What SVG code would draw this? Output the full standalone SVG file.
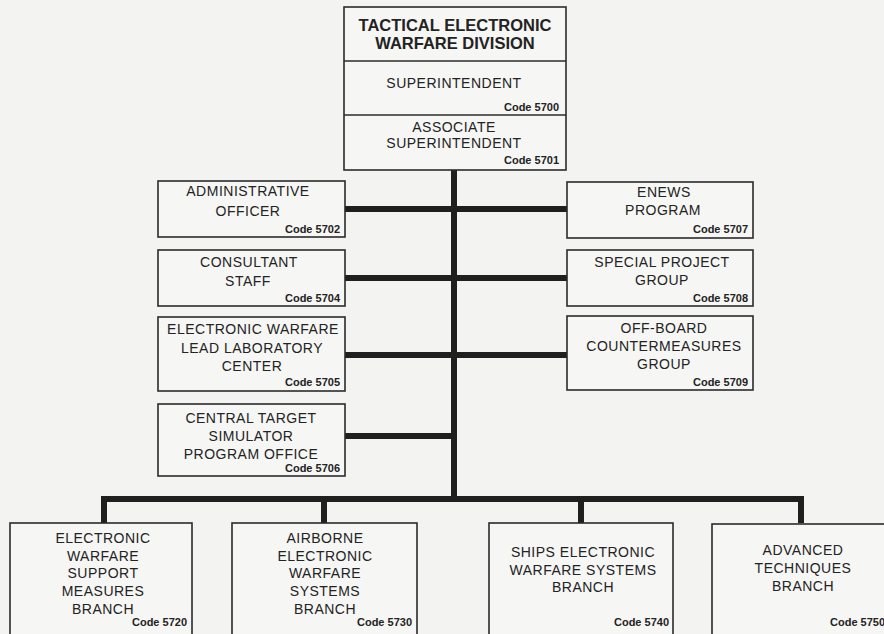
<svg xmlns="http://www.w3.org/2000/svg" width="884" height="634" viewBox="0 0 884 634">
<style>
.bg{fill:#f3f3f1}
.box{fill:#f6f6f4;stroke:#2b2b2b;stroke-width:1.6}
.t{font-family:"Liberation Sans",Arial,sans-serif;font-size:14px;letter-spacing:0.5px;fill:#232323;text-anchor:middle}
.title{font-family:"Liberation Sans",Arial,sans-serif;font-size:16.5px;font-weight:bold;fill:#232323;text-anchor:middle}
.code{font-family:"Liberation Sans",Arial,sans-serif;font-size:11px;font-weight:bold;fill:#232323;text-anchor:end}
.conn{stroke:#1f1f1f;stroke-width:6;fill:none}
</style>
<rect class="bg" x="0" y="0" width="884" height="634"/>

<g id="connectors">
<line class="conn" x1="454" y1="170" x2="454" y2="502"/>
<line class="conn" x1="345" y1="209" x2="567" y2="209"/>
<line class="conn" x1="345" y1="278" x2="567" y2="278"/>
<line class="conn" x1="345" y1="355" x2="567" y2="355"/>
<line class="conn" x1="345" y1="436" x2="454" y2="436"/>
<polyline class="conn" points="104,523 104,499 801,499 801,523"/>
<line class="conn" x1="324" y1="499" x2="324" y2="523"/>
<line class="conn" x1="581" y1="499" x2="581" y2="523"/>
</g>

<g id="division">
<rect class="box" x="344" y="7" width="222" height="163"/>
<line stroke="#2b2b2b" stroke-width="1.6" x1="344" y1="61" x2="566" y2="61"/>
<line stroke="#2b2b2b" stroke-width="1.6" x1="344" y1="115" x2="566" y2="115"/>
<text class="title" x="455" y="31">TACTICAL ELECTRONIC</text>
<text class="title" x="455" y="49">WARFARE DIVISION</text>
<text class="t" x="454" y="88">SUPERINTENDENT</text>
<text class="code" x="559" y="111">Code 5700</text>
<text class="t" x="454" y="132">ASSOCIATE</text>
<text class="t" x="454" y="148">SUPERINTENDENT</text>
<text class="code" x="559" y="164">Code 5701</text>
</g>

<g id="n5702">
<rect class="box" x="158" y="181" width="187" height="56"/>
<text class="t" x="248" y="196">ADMINISTRATIVE</text>
<text class="t" x="248" y="216">OFFICER</text>
<text class="code" x="340" y="233">Code 5702</text>
</g>

<g id="n5704">
<rect class="box" x="158" y="250" width="187" height="56"/>
<text class="t" x="249" y="267">CONSULTANT</text>
<text class="t" x="248" y="286">STAFF</text>
<text class="code" x="340" y="302">Code 5704</text>
</g>

<g id="n5705">
<rect class="box" x="158" y="317" width="187" height="74"/>
<text class="t" x="253" y="334">ELECTRONIC WARFARE</text>
<text class="t" x="252" y="353">LEAD LABORATORY</text>
<text class="t" x="252" y="371">CENTER</text>
<text class="code" x="340" y="386">Code 5705</text>
</g>

<g id="n5706">
<rect class="box" x="158" y="404" width="187" height="72"/>
<text class="t" x="251" y="423">CENTRAL TARGET</text>
<text class="t" x="251" y="441">SIMULATOR</text>
<text class="t" x="251" y="459">PROGRAM OFFICE</text>
<text class="code" x="340" y="472">Code 5706</text>
</g>

<g id="n5707">
<rect class="box" x="567" y="182" width="186" height="56"/>
<text class="t" x="664" y="197">ENEWS</text>
<text class="t" x="663" y="215">PROGRAM</text>
<text class="code" x="748" y="233">Code 5707</text>
</g>

<g id="n5708">
<rect class="box" x="567" y="250" width="186" height="56"/>
<text class="t" x="662" y="267">SPECIAL PROJECT</text>
<text class="t" x="662" y="285">GROUP</text>
<text class="code" x="748" y="302">Code 5708</text>
</g>

<g id="n5709">
<rect class="box" x="567" y="316" width="186" height="74"/>
<text class="t" x="664" y="333">OFF-BOARD</text>
<text class="t" x="664" y="351">COUNTERMEASURES</text>
<text class="t" x="664" y="369">GROUP</text>
<text class="code" x="748" y="386">Code 5709</text>
</g>

<g id="n5720">
<rect class="box" x="10" y="523" width="182" height="120"/>
<text class="t" x="103" y="543">ELECTRONIC</text>
<text class="t" x="103" y="561">WARFARE</text>
<text class="t" x="103" y="578">SUPPORT</text>
<text class="t" x="103" y="596">MEASURES</text>
<text class="t" x="103" y="614">BRANCH</text>
<text class="code" x="187" y="626">Code 5720</text>
</g>

<g id="n5730">
<rect class="box" x="232" y="523" width="185" height="120"/>
<text class="t" x="325" y="543">AIRBORNE</text>
<text class="t" x="325" y="561">ELECTRONIC</text>
<text class="t" x="325" y="578">WARFARE</text>
<text class="t" x="325" y="596">SYSTEMS</text>
<text class="t" x="325" y="614">BRANCH</text>
<text class="code" x="412" y="626">Code 5730</text>
</g>

<g id="n5740">
<rect class="box" x="489" y="523" width="184" height="120"/>
<text class="t" x="583" y="557">SHIPS ELECTRONIC</text>
<text class="t" x="583" y="575">WARFARE SYSTEMS</text>
<text class="t" x="583" y="592">BRANCH</text>
<text class="code" x="669" y="626">Code 5740</text>
</g>

<g id="n5750">
<rect class="box" x="712" y="524" width="190" height="120"/>
<text class="t" x="803" y="555">ADVANCED</text>
<text class="t" x="803" y="573">TECHNIQUES</text>
<text class="t" x="803" y="591">BRANCH</text>
<text class="code" x="830" y="626" style="text-anchor:start">Code 5750</text>
</g>
</svg>
